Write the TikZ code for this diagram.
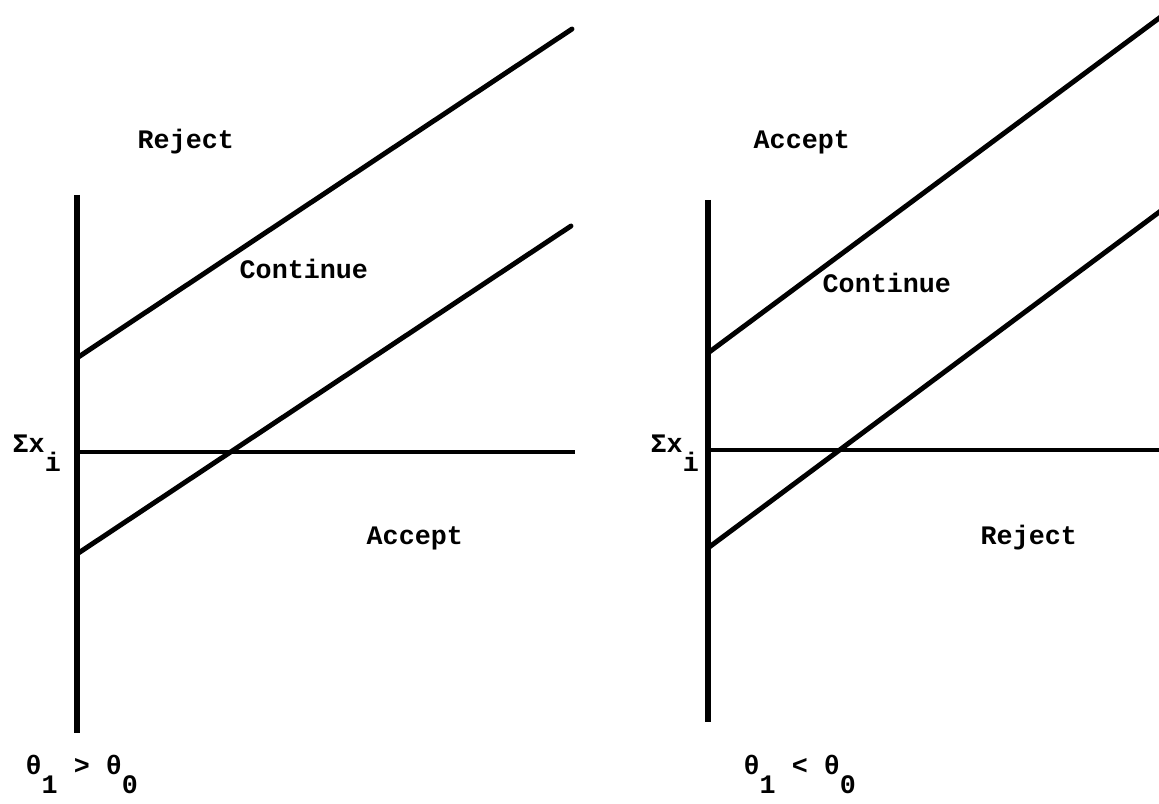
\documentclass[tikz,border=0pt]{standalone}
\usepackage{fontspec}
\newfontfamily\tw{Liberation Mono}
\newcommand{\lowr}[1]{\raisebox{-5.2pt}{#1}}
\begin{document}
\begin{tikzpicture}[x=0.01cm,y=-0.01cm,
  axis/.style={line width=1.5pt},
  bound/.style={line width=1.4pt,line cap=round},
  level/.style={line width=0.9pt},
  lab/.style={anchor=base west,inner sep=0pt,font=\tw\bfseries\fontsize{7.6pt}{9pt}\selectfont}]
\useasboundingbox (0,0) rectangle (1159,804);
% left panel
\coordinate (LTop) at (77,195);
\coordinate (LBot) at (77,733);
\coordinate (LU0) at (77,358);
\coordinate (LU1) at (572,29);
\coordinate (LL0) at (77,554);
\coordinate (LL1) at (571,226);
\coordinate (LH0) at (77,452);
\coordinate (LH1) at (575,452);
\draw[axis] (LTop) -- (LBot);
\draw[bound] (LU0) -- (LU1);
\draw[bound] (LL0) -- (LL1);
\draw[level] (LH0) -- (LH1);
\node[lab] (lrej) at (137,149) {Reject};
\node[lab] (lcon) at (239,279) {Continue};
\node[lab] (lacc) at (366,545) {Accept};
\node[lab] (lsum) at (12,453) {Σx\lowr{i}};
\node[lab] (lth) at (25,775) {θ\lowr{1} > θ\lowr{0}};
% right panel
\coordinate (RTop) at (708,200);
\coordinate (RBot) at (708,722);
\coordinate (RU0) at (708,353);
\coordinate (RU1) at (1162,16);
\coordinate (RL0) at (708,548);
\coordinate (RL1) at (1162,210);
\coordinate (RH0) at (708,450);
\coordinate (RH1) at (1162,450);
\draw[axis] (RTop) -- (RBot);
\draw[bound] (RU0) -- (RU1);
\draw[bound] (RL0) -- (RL1);
\draw[level] (RH0) -- (RH1);
\node[lab] (racc) at (753,149) {Accept};
\node[lab] (rcon) at (822,293) {Continue};
\node[lab] (rrej) at (980,545) {Reject};
\node[lab] (rsum) at (650,453) {Σx\lowr{i}};
\node[lab] (rth) at (743,775) {θ\lowr{1} < θ\lowr{0}};
\end{tikzpicture}
\end{document}
